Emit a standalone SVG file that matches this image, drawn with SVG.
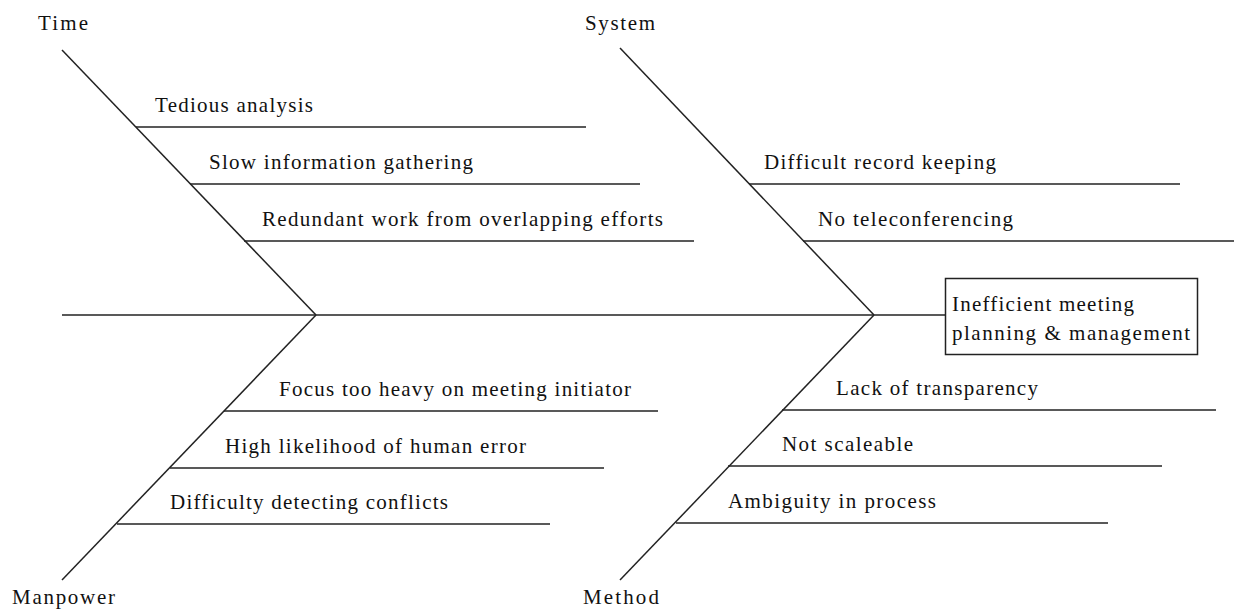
<svg xmlns="http://www.w3.org/2000/svg" width="1235" height="609" viewBox="0 0 1235 609">
<style>
.l{stroke:#222;stroke-width:1.5;fill:none}
.t{font-family:'Liberation Serif','DejaVu Serif',serif;font-size:21px;fill:#111}
</style>
<rect width="1235" height="609" fill="#fff"/>
<g id="connectors">
<line class="l" x1="62" y1="315" x2="945" y2="315"/>
<line class="l" x1="62" y1="50" x2="316" y2="315"/>
<line class="l" x1="620" y1="48" x2="874" y2="315"/>
<line class="l" x1="62" y1="580" x2="316" y2="315"/>
<line class="l" x1="620" y1="580" x2="874" y2="315"/>
<line class="l" x1="136" y1="127" x2="586" y2="127"/>
<line class="l" x1="190" y1="184" x2="640" y2="184"/>
<line class="l" x1="244" y1="241" x2="694" y2="241"/>
<line class="l" x1="749" y1="184" x2="1180" y2="184"/>
<line class="l" x1="803" y1="241" x2="1234" y2="241"/>
<line class="l" x1="224" y1="411" x2="658" y2="411"/>
<line class="l" x1="170" y1="468" x2="604" y2="468"/>
<line class="l" x1="117" y1="524" x2="550" y2="524"/>
<line class="l" x1="782" y1="410" x2="1216" y2="410"/>
<line class="l" x1="728" y1="466" x2="1162" y2="466"/>
<line class="l" x1="676" y1="523" x2="1108" y2="523"/>
</g>
<g id="effect" class="t" font-family="Liberation Serif, serif">
<rect x="945.5" y="278.5" width="252" height="76" fill="#fff" stroke="#222" stroke-width="1.5"/>
<text x="952" y="311" textLength="182" lengthAdjust="spacing">Inefficient meeting</text>
<text x="952" y="340" textLength="238" lengthAdjust="spacing">planning &amp; management</text>
</g>
<g id="cat-time" class="t" font-family="Liberation Serif, serif">
<text x="38" y="30" textLength="50" lengthAdjust="spacing">Time</text>
<text x="155" y="112" textLength="158" lengthAdjust="spacing">Tedious analysis</text>
<text x="209" y="169" textLength="264" lengthAdjust="spacing">Slow information gathering</text>
<text x="262" y="226" textLength="401" lengthAdjust="spacing">Redundant work from overlapping efforts</text>
</g>
<g id="cat-system" class="t" font-family="Liberation Serif, serif">
<text x="585" y="30" textLength="70" lengthAdjust="spacing">System</text>
<text x="764" y="169" textLength="232" lengthAdjust="spacing">Difficult record keeping</text>
<text x="818" y="226" textLength="195" lengthAdjust="spacing">No teleconferencing</text>
</g>
<g id="cat-manpower" class="t" font-family="Liberation Serif, serif">
<text x="12" y="604" textLength="103" lengthAdjust="spacing">Manpower</text>
<text x="279" y="396" textLength="352" lengthAdjust="spacing">Focus too heavy on meeting initiator</text>
<text x="225" y="453" textLength="301" lengthAdjust="spacing">High likelihood of human error</text>
<text x="170" y="509" textLength="278" lengthAdjust="spacing">Difficulty detecting conflicts</text>
</g>
<g id="cat-method" class="t" font-family="Liberation Serif, serif">
<text x="583" y="604" textLength="76" lengthAdjust="spacing">Method</text>
<text x="836" y="395" textLength="202" lengthAdjust="spacing">Lack of transparency</text>
<text x="782" y="451" textLength="131" lengthAdjust="spacing">Not scaleable</text>
<text x="728" y="508" textLength="208" lengthAdjust="spacing">Ambiguity in process</text>
</g>
</svg>
